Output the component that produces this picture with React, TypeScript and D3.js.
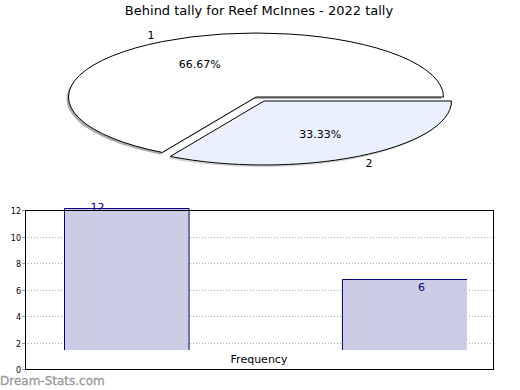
import { useEffect, useRef } from "react"
import * as d3 from "d3"

const title = "Behind tally for Reef McInnes - 2022 tally"
const categories = ["1", "2"]
const tallies = [12, 6]
const percentLabels = ["66.67%", "33.33%"]
const sliceColors = ["#ffffff", "#eaf0fd"]
const yTicks = [0, 2, 4, 6, 8, 10, 12]
const xAxisLabel = "Frequency"
const watermark = "Dream-Stats.com"

const W = 520
const H = 390

export default function App() {
  const svgRef = useRef<SVGSVGElement>(null)

  useEffect(() => {
    if (!svgRef.current) return
    const svg = d3.select(svgRef.current)
    svg.selectAll("*").remove()
    const font = "DejaVu Sans, sans-serif"

    // titulo
    svg
      .append("text")
      .attr("x", 259)
      .attr("y", 15)
      .attr("text-anchor", "middle")
      .attr("font-family", font)
      .attr("font-size", 13)
      .text(title)

    // pizza elíptica
    const cx = 256
    const cy = 97
    const rx = 187.5
    const ry = 64
    const explode = [
      [0, 0],
      [8, 4],
    ]

    const pie = d3
      .pie<number>()
      .sort(null)
      .startAngle(Math.PI / 2)
      .endAngle(Math.PI / 2 - 2 * Math.PI)
    const arcs = pie(tallies)
    const arc = d3.arc<d3.PieArcDatum<number>>().innerRadius(0).outerRadius(1)

    const pieG = svg.append("g")

    // sombra
    arcs.forEach((a, i) => {
      pieG
        .append("path")
        .attr("transform", `translate(${cx + explode[i][0] - 2},${cy + explode[i][1] + 2}) scale(${rx},${ry})`)
        .attr("d", arc(a) || "")
        .attr("fill", "#999")
        .attr("opacity", i === 0 ? 0.8 : 0.4)
    })

    arcs.forEach((a, i) => {
      pieG
        .append("path")
        .attr("transform", `translate(${cx + explode[i][0]},${cy + explode[i][1]}) scale(${rx},${ry})`)
        .attr("d", arc(a) || "")
        .attr("fill", sliceColors[i])
        .attr("stroke", "#000")
        .attr("stroke-width", 1)
        .attr("vector-effect", "non-scaling-stroke")
        .attr("stroke-linejoin", "miter")
    })

    arcs.forEach((a, i) => {
      const m = (a.startAngle + a.endAngle) / 2
      const ox = cx + explode[i][0]
      const oy = cy + explode[i][1]
      pieG
        .append("text")
        .attr("x", ox + Math.sin(m) * rx * 0.6)
        .attr("y", oy - Math.cos(m) * ry * 0.6 + 4)
        .attr("text-anchor", "middle")
        .attr("font-family", font)
        .attr("font-size", 11)
        .text(percentLabels[i])
      pieG
        .append("text")
        .attr("x", ox + Math.sin(m) * rx * 1.12)
        .attr("y", oy - Math.cos(m) * ry * 1.12 + 4)
        .attr("text-anchor", "middle")
        .attr("font-family", font)
        .attr("font-size", 11)
        .text(categories[i])
    })

    // barras
    const left = 25
    const right = 493
    const top = 210
    const bottom = 369

    const y = d3.scaleLinear().domain([0, 12]).range([bottom, top])
    const yBar = d3.scaleLinear().domain([0, 12]).range([350, 208])
    const x = d3.scaleBand().domain(categories).range([64, 467]).paddingInner(0.55).paddingOuter(0)

    const g = svg.append("g")

    yTicks.forEach((t) => {
      const yy = Math.round(y(t)) + 0.5
      if (t !== 0 && t !== 12) {
        g.append("line")
          .attr("x1", left)
          .attr("x2", right)
          .attr("y1", yy)
          .attr("y2", yy)
          .attr("stroke", "#aaa")
          .attr("stroke-dasharray", "1,2")
      }
      g.append("line").attr("x1", left - 3).attr("x2", left).attr("y1", yy).attr("y2", yy).attr("stroke", "#999")
      g.append("line").attr("x1", right).attr("x2", right + 2).attr("y1", yy).attr("y2", yy).attr("stroke", "#bbb")
      g.append("text")
        .attr("x", left - 4)
        .attr("y", yy + 3)
        .attr("text-anchor", "end")
        .attr("font-family", font)
        .attr("font-size", 8)
        .text(t)
    })

    const labelShift = [
      [-29, 2],
      [17, 11],
    ]

    tallies.forEach((v, i) => {
      const x0 = x(categories[i]) || 0
      const bw = x.bandwidth()
      const yt = Math.round(yBar(v)) + 0.5
      const yb = yBar(0)
      g.append("rect")
        .attr("x", x0)
        .attr("y", yt)
        .attr("width", bw)
        .attr("height", yb - yt)
        .attr("fill", "#ccccE4")
      const p = d3.path()
      p.moveTo(x0 + 0.5, yb)
      p.lineTo(x0 + 0.5, yt)
      p.lineTo(x0 + bw, yt)
      if (i === 0) p.lineTo(x0 + bw, yb)
      g.append("path").attr("d", p.toString()).attr("fill", "none").attr("stroke", "#000080")
      g.append("text")
        .attr("x", x0 + bw / 2 + labelShift[i][0])
        .attr("y", yt + labelShift[i][1])
        .attr("text-anchor", "middle")
        .attr("font-family", font)
        .attr("font-size", 11)
        .attr("fill", "#000080")
        .text(v)
    })

    g.append("rect")
      .attr("x", left + 0.5)
      .attr("y", top + 0.5)
      .attr("width", right - left)
      .attr("height", bottom - top)
      .attr("fill", "none")
      .attr("stroke", "#000")

    g.append("text")
      .attr("x", 259)
      .attr("y", 363)
      .attr("text-anchor", "middle")
      .attr("font-family", font)
      .attr("font-size", 11)
      .text(xAxisLabel)

    svg
      .append("text")
      .attr("x", 0)
      .attr("y", 385)
      .attr("font-family", font)
      .attr("font-size", 12)
      .attr("fill", "#999")
      .attr("stroke", "#999")
      .attr("stroke-width", 0.3)
      .text(watermark)
  }, [])

  return (
    <div style={{ position: "absolute", left: 0, top: 0, width: W, height: H, background: "#fff" }}>
      <svg ref={svgRef} width={W} height={H} />
    </div>
  )
}
